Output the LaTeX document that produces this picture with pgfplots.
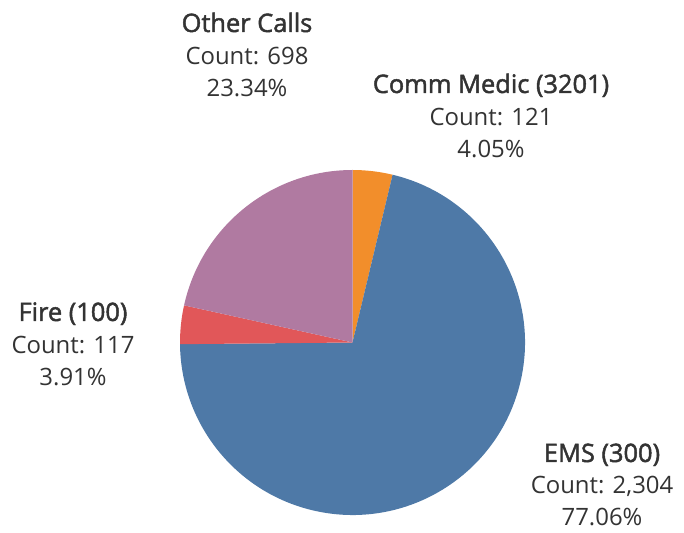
\documentclass[border=0pt]{standalone}
\usepackage{pgfplots}
\usepackage{pgfplotstable}
\pgfplotsset{compat=1.18}
\usepackage{fontspec}
\setmainfont{Open Sans}
\newfontfamily\semib[FakeBold=1.8]{Open Sans}
\definecolor{cOrange}{HTML}{F28E2B}
\definecolor{cBlue}{HTML}{4E79A7}
\definecolor{cRed}{HTML}{E15759}
\definecolor{cPurple}{HTML}{B07AA1}
\definecolor{txt}{HTML}{333333}

\pgfplotstableread{
name count
CommMedic 121
EMS 2304
Fire 117
Other 698
}\piedata
\pgfplotstablegetelem{0}{count}\of\piedata \let\cA\pgfplotsretval
\pgfplotstablegetelem{1}{count}\of\piedata \let\cB\pgfplotsretval
\pgfplotstablegetelem{2}{count}\of\piedata \let\cC\pgfplotsretval
\pgfplotstablegetelem{3}{count}\of\piedata \let\cD\pgfplotsretval
\pgfmathsetmacro\total{\cA+\cB+\cC+\cD}
\pgfmathsetmacro\aA{90}
\pgfmathsetmacro\aB{\aA-360*(\cA/\total)}
\pgfmathsetmacro\aC{\aB-360*(\cB/\total)}
\pgfmathsetmacro\aD{\aC-360*(\cC/\total)}
\pgfmathsetmacro\aE{-270}

\begin{document}%
\begin{tikzpicture}
\begin{axis}[
  width=684bp, height=533bp, scale only axis,
  xmin=0, xmax=684, ymin=0, ymax=533,
  hide axis, clip=false,
]
\path (axis cs:0,0) rectangle (axis cs:684,533);
\fill[cOrange] (axis cs:352.5,190.5) -- ++(\aA:172.5bp) arc[start angle=\aA, end angle=\aB, radius=172.5bp] -- cycle;
\fill[cBlue] (axis cs:352.5,190.5) -- ++(\aB:172.5bp) arc[start angle=\aB, end angle=\aC, radius=172.5bp] -- cycle;
\fill[cRed] (axis cs:352.5,190.5) -- ++(\aC:172.5bp) arc[start angle=\aC, end angle=\aD, radius=172.5bp] -- cycle;
\fill[cPurple] (axis cs:352.5,190.5) -- ++(\aD:172.5bp) arc[start angle=\aD, end angle=\aE, radius=172.5bp] -- cycle;

\tikzset{lab/.style={anchor=base, inner sep=0pt, text=txt, font=\fontsize{24}{28}\selectfont},
         ttl/.style={anchor=base, inner sep=0pt, text=txt, font=\fontsize{25.5}{28}\selectfont\semib}}
% Other Calls
\node[ttl] at (axis cs:247,501) {Other Calls};
\node[lab] at (axis cs:247,468) {Count: 698};
\node[lab] at (axis cs:247,436) {23.34\%};
% Comm Medic
\node[ttl] at (axis cs:491,440) {Comm Medic (3201)};
\node[lab] at (axis cs:491,407) {Count: 121};
\node[lab] at (axis cs:491,375) {4.05\%};
% Fire
\node[ttl] at (axis cs:73,212) {Fire (100)};
\node[lab] at (axis cs:73,179) {Count: 117};
\node[lab] at (axis cs:73,147) {3.91\%};
% EMS
\node[ttl] at (axis cs:602,71) {EMS (300)};
\node[lab] at (axis cs:602,39) {Count: 2,304};
\node[lab] at (axis cs:602,8) {77.06\%};
\end{axis}
\end{tikzpicture}%
\end{document}
